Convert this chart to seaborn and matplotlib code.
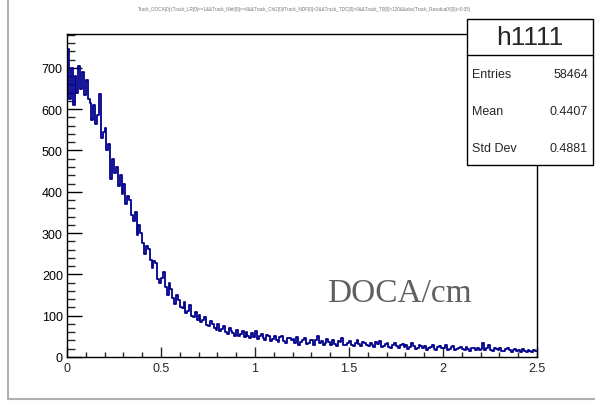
import numpy as np
import pandas as pd
import matplotlib
matplotlib.use("Agg")
import matplotlib.pyplot as plt
from matplotlib.lines import Line2D
from matplotlib.patches import Rectangle
from matplotlib.ticker import MultipleLocator
import seaborn as sns

# ---- data, 250 bins of 0.01 cm from 0 to 2.5 ----
bin_lo = 0.0
bin_hi = 2.5
n_bins = 250
counts = [
    745, 625, 700, 610, 680, 640, 705, 650, 690, 635,
    670, 625, 615, 575, 610, 565, 585, 637, 530, 545,
    555, 500, 515, 430, 480, 445, 460, 415, 440, 395,
    420, 370, 390, 380, 345, 330, 352, 295, 320, 300,
    275, 250, 268, 262, 235, 215, 232, 228, 190, 178,
    192, 205, 170, 150, 178, 165, 142, 128, 150, 138,
    122, 118, 132, 106, 112, 125, 100, 96, 110, 90,
    102, 84, 90, 96, 78, 75, 86, 80, 70, 66,
    80, 62, 68, 74, 60, 56, 70, 64, 58, 52,
    66, 50, 55, 62, 48, 60, 52, 45, 58, 48,
    62, 44, 50, 56, 46, 40, 54, 52, 38, 44,
    52, 40, 36, 48, 50, 38, 34, 45, 46, 40,
    44, 34, 48, 30, 36, 42, 46, 32, 35, 40,
    42, 30, 40, 52, 34, 38, 28, 33, 44, 37,
    30, 40, 32, 27, 38, 36, 45, 30, 28, 34,
    38, 29, 26, 35, 40, 31, 27, 36, 33, 30,
    26, 34, 28, 24, 36, 31, 38, 25, 27, 32,
    33, 24, 22, 30, 34, 26, 21, 29, 31, 25,
    28, 20, 24, 33, 27, 19, 23, 30, 26, 21,
    27, 18, 22, 25, 29, 20, 17, 24, 26, 21,
    22, 28, 18, 20, 24, 26, 17, 19, 23, 25,
    20, 16, 24, 19, 15, 22, 21, 18, 23, 17,
    19, 33, 16, 22, 30, 17, 15, 21, 20, 18,
    22, 15, 14, 19, 21, 16, 13, 18, 20, 15,
    17, 13, 19, 15, 12, 18, 14, 11, 16, 15,
]
x_ticks = [0, 0.5, 1, 1.5, 2, 2.5]
x_tick_labels = ["0", "0.5", "1", "1.5", "2", "2.5"]
y_ticks = [0, 100, 200, 300, 400, 500, 600, 700]
y_tick_labels = ["0", "100", "200", "300", "400", "500", "600", "700"]
hist_name = "h1111"
stat_labels = ["Entries", "Mean", "Std Dev"]
stat_values = ["58464", "0.4407", "0.4881"]
annotation = "DOCA/cm"
title_text = ("Track_DOCA[0]:(Track_LR[0]==1&&Track_Nhit[0]>=6&&Track_Chi2[0]/Track_NDF[0]<2&&"
              "Track_TDC[0]>0&&Track_T0[0]<120&&abs(Track_ResidualX[0])<0.05)")

width = (bin_hi - bin_lo) / n_bins
centers = [bin_lo + (i + 0.5) * width for i in range(n_bins)]
df = pd.DataFrame({"doca": centers, "n": counts})

sns.set_style("ticks")
plt.rcParams["font.family"] = ["Liberation Sans", "DejaVu Sans"]

W, H = 595, 402
fig = plt.figure(figsize=(W / 100, H / 100), dpi=100)
ax = fig.add_axes([67 / W, 1 - 358 / H, (537 - 67) / W, (358 - 35) / H])

sns.histplot(data=df, x="doca", weights="n", bins=n_bins, binrange=(bin_lo, bin_hi),
             element="step", fill=False, color="#00008c", linewidth=1.3, ax=ax)

ax.set_xlim(0, 2.5)
ax.set_ylim(0, 782)
ax.set_xlabel("")
ax.set_ylabel("")
ax.set_xticks(x_ticks)
ax.set_xticklabels(x_tick_labels)
ax.set_yticks(y_ticks)
ax.set_yticklabels(y_tick_labels)
ax.xaxis.set_minor_locator(MultipleLocator(0.1))
ax.yaxis.set_minor_locator(MultipleLocator(20))
ax.tick_params(axis="y", which="major", direction="in", length=10.8, width=1.0,
               labelsize=9, pad=3, colors="black")
ax.tick_params(axis="y", which="minor", direction="in", length=5.4, width=1.0)
ax.tick_params(axis="x", which="major", direction="in", length=7.2, width=1.0,
               labelsize=9, pad=3.5)
ax.tick_params(axis="x", which="minor", direction="in", length=3.6, width=1.0)
for s in ax.spines.values():
    s.set_visible(True)
    s.set_linewidth(1.0)
    s.set_color("black")

# annotation
ax.text(0.708, 0.2, annotation, transform=ax.transAxes, family="Liberation Serif",
        fontsize=24, color="#606060", ha="center", va="center")

# stats box (figure pixel coords)
def fx(px):
    return px / W

def fy(py):
    return 1 - py / H

bx0, bx1, by0, by1, byt = 467, 593, 20, 166, 56
fig.patches.append(Rectangle((fx(bx0), fy(by1)), fx(bx1) - fx(bx0), fy(by0) - fy(by1),
                             transform=fig.transFigure, facecolor="white",
                             edgecolor="black", linewidth=1.0, zorder=5))
fig.add_artist(Line2D([fx(bx0), fx(bx1)], [fy(byt), fy(byt)], color="black",
                      linewidth=1.0, zorder=6))
fig.text(fx((bx0 + bx1) / 2), fy((by0 + byt) / 2), hist_name, fontsize=19,
         ha="center", va="center", zorder=7)
row_y = [75, 112, 149]
for lab, val, ry in zip(stat_labels, stat_values, row_y):
    fig.text(fx(472), fy(ry), lab, fontsize=9, ha="left", va="center", zorder=7)
    fig.text(fx(588), fy(ry), val, fontsize=9, ha="right", va="center", zorder=7)

# title (tiny)
fig.text(fx(305), fy(9), title_text, fontsize=3.3, color="#777777",
         ha="center", va="center")

# outer canvas border lines
fig.add_artist(Line2D([fx(7.5), fx(7.5)], [fy(0), fy(400)], color="#b0b0b0", linewidth=1.5))
fig.add_artist(Line2D([fx(7.5), fx(595)], [fy(400), fy(400)], color="#b0b0b0", linewidth=1.5))

fig.savefig("out.png", dpi=100)
